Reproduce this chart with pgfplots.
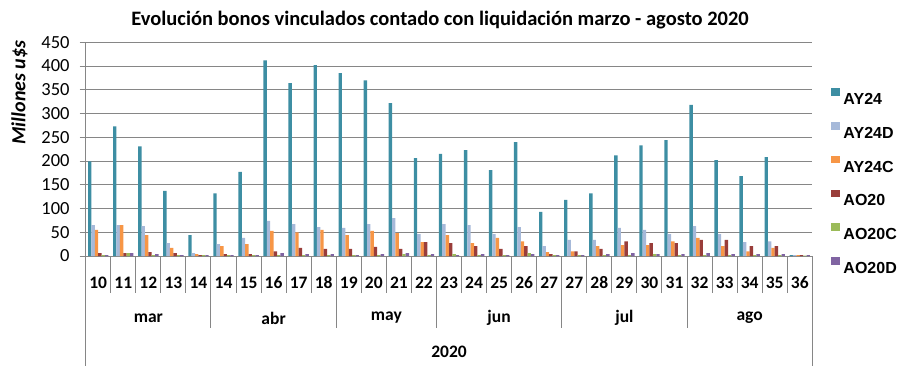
\documentclass[border=0pt]{standalone}
\usepackage{pgfplots}
\pgfplotsset{compat=1.18}
\usepackage{pgfplotstable}
\usepackage{fontspec}
\setmainfont{Carlito}
\newfontfamily\legfont{Liberation Sans}
\definecolor{cA}{HTML}{3D8EA3}
\definecolor{cB}{HTML}{A6B9D9}
\definecolor{cC}{HTML}{F79646}
\definecolor{cD}{HTML}{993D3A}
\definecolor{cE}{HTML}{9BBB59}
\definecolor{cF}{HTML}{8064A2}
\definecolor{grid}{HTML}{868686}
\pgfplotstableread{
x a b c d e f
0 199 65 55 6 2 2
1 273 65 65 6 6 6
2 231 63 44 8 2 4
3 137 27 17 6 2 2
4 44 6 4 2 2 2
5 132 25 21 4 2 2
6 177 38 25 4 2 2
7 412 74 53 10 2 6
8 364 67 50 17 2 4
9 402 61 55 15 2 4
10 385 59 44 15 2 2
11 370 67 53 19 2 4
12 322 80 48 15 4 6
13 206 46 29 29 2 4
14 215 67 44 27 4 2
15 223 65 27 21 2 4
16 181 46 38 15 2 2
17 240 61 31 21 6 4
18 93 21 8 4 2 2
19 118 34 10 10 2 2
20 132 34 21 15 2 4
21 212 59 23 31 2 6
22 233 55 23 27 4 4
23 244 46 31 27 2 4
24 318 63 38 34 2 6
25 202 46 21 34 2 4
26 168 29 10 21 2 4
27 208 31 17 21 2 4
28 2 2 2 2 1 2
}\data
\pgfplotsset{sq/.style={legend image code/.code={\draw[##1,draw=none] (0bp,3bp) rectangle (9bp,10.5bp);}}}
\begin{document}
\begin{tikzpicture}[x=1bp,y=1bp]
\useasboundingbox (0,0) rectangle (921,367);
\node[font=\bfseries\fontsize{20.5bp}{24bp}\selectfont] at (440,347) {Evolución bonos vinculados contado con liquidación marzo - agosto 2020};
\node[rotate=90,font=\bfseries\itshape\fontsize{20bp}{24bp}\selectfont] at (19.5,274.5) {Millones u\$s};
\begin{axis}[at={(85.7bp,111bp)}, anchor=south west, scale only axis,
 width=726.6bp, height=213.7bp,
 xmin=-0.5, xmax=28.5, ymin=0, ymax=450,
 ytick={0,50,...,450},
 xtick={0,...,28},
 xticklabels={10,11,12,13,14,14,15,16,17,18,19,20,21,22,23,24,25,26,27,27,28,29,30,31,32,33,34,35,36},
 ybar=0pt, bar width=3.4bp,
 axis x line*=bottom, axis y line*=left,
 axis line style={draw=grid, line width=1bp, -},
 ymajorgrids, grid style={draw=grid, line width=1bp},
 tick align=outside, major tick length=6bp,
 ytick style={draw=grid, line width=1bp},
 xtick style={draw=none},
 /pgf/number format/assume math mode=true,
 yticklabel style={font=\fontsize{18.5bp}{20bp}\selectfont, inner sep=0pt, xshift=-10bp},
 xticklabel style={font=\bfseries\fontsize{17.5bp}{20bp}\selectfont, anchor=center, yshift=-21bp},
 clip=false,
 legend style={at={(1.022,0.351)}, anchor=west, draw=none, fill=none,
   font=\legfont\bfseries\fontsize{16bp}{16bp}\selectfont,
   nodes={inner xsep=3bp, inner ysep=0pt, text height=11.5bp, text depth=0pt},
   row sep=17.5bp},
 legend cell align=left,
]
\addplot[sq, fill=cA, draw=none] table[x=x,y=a]{\data};
\addplot[sq, fill=cB, draw=none] table[x=x,y=b]{\data};
\addplot[sq, fill=cC, draw=none] table[x=x,y=c]{\data};
\addplot[sq, fill=cD, draw=none] table[x=x,y=d]{\data};
\addplot[sq, fill=cE, draw=none] table[x=x,y=e]{\data};
\addplot[sq, fill=cF, draw=none] table[x=x,y=f]{\data};
\legend{AY24,AY24D,AY24C,AO20,AO20C,AO20D}
\pgfplotsinvokeforeach{0.5,1.5,...,27.5}{\draw[grid, line width=1bp] (axis cs:#1,0) -- ([yshift=-37bp]axis cs:#1,0);}
\pgfplotsinvokeforeach{4.5,9.5,13.5,18.5,23.5}{\draw[grid, line width=1bp] (axis cs:#1,0) -- ([yshift=-72bp]axis cs:#1,0);}
\pgfplotsinvokeforeach{-0.5,28.5}{\draw[grid, line width=1bp] (axis cs:#1,0) -- ([yshift=-110bp]axis cs:#1,0);}
\node[font=\bfseries\fontsize{17.5bp}{20bp}\selectfont] at ([yshift=-62bp]axis cs:2,0) {mar};
\node[font=\bfseries\fontsize{17.5bp}{20bp}\selectfont] at ([yshift=-62bp]axis cs:7,0) {abr};
\node[font=\bfseries\fontsize{17.5bp}{20bp}\selectfont] at ([yshift=-62bp]axis cs:11.5,0) {may};
\node[font=\bfseries\fontsize{17.5bp}{20bp}\selectfont] at ([yshift=-62bp]axis cs:16,0) {jun};
\node[font=\bfseries\fontsize{17.5bp}{20bp}\selectfont] at ([yshift=-62bp]axis cs:21,0) {jul};
\node[font=\bfseries\fontsize{17.5bp}{20bp}\selectfont] at ([yshift=-62bp]axis cs:26,0) {ago};
\node[font=\bfseries\fontsize{17.5bp}{20bp}\selectfont] at ([yshift=-96bp]axis cs:14,0) {2020};
\end{axis}
\end{tikzpicture}
\end{document}
